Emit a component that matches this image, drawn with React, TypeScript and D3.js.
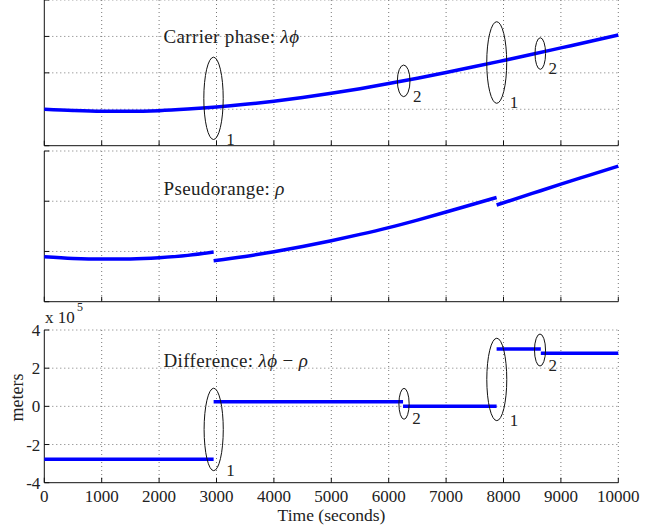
import React from 'react';
import * as d3 from 'd3';

// ---- data ----
const timeTicks = [0, 1000, 2000, 3000, 4000, 5000, 6000, 7000, 8000, 9000, 10000];

const carrierTimes = [0, 500, 1000, 1500, 2000, 2500, 3000, 3500, 4000, 4500, 5000, 5500, 6000, 6500, 7000, 7500, 8000, 8500, 9000, 9500, 10000];
const carrierValues = [1.0, 0.965, 0.945, 0.943, 0.962, 1.005, 1.062, 1.135, 1.222, 1.323, 1.438, 1.566, 1.705, 1.853, 2.01, 2.172, 2.34, 2.51, 2.685, 2.86, 3.04];

const rangeTimes1 = [0, 500, 1000, 1500, 2000, 2500, 2950];
const rangeValues1 = [0.896, 0.862, 0.848, 0.852, 0.876, 0.922, 0.99];
const rangeTimes2 = [2950, 3500, 4000, 4500, 5000, 5500, 6000, 6500, 7000, 7500, 7880];
const rangeValues2 = [0.816, 0.9, 0.995, 1.1, 1.215, 1.34, 1.475, 1.625, 1.785, 1.95, 2.075];
const rangeTimes3 = [7880, 8500, 9000, 9500, 10000];
const rangeValues3 = [1.925, 2.155, 2.34, 2.52, 2.7];

const diffStart = [0, 2950, 6250, 7880, 8650];
const diffEnd = [2950, 6250, 7880, 8650, 10000];
const diffLevel = [-2.77, 0.245, 0.0, 3.0, 2.78]; // x 10^5 m
const diffTicks = [-4, -2, 0, 2, 4];

const topTicks = [0, 1, 2, 3, 4];
const midTicks = [0, 1, 2, 3];

const slipLabels = ['1', '2', '1', '2'];
const phaseSlipTimes = [2948, 6261, 7882, 8641];
const phaseSlipCenters = [1.3, 1.78, 2.284, 2.53];
const phaseSlipHalfHeights = [1.13, 0.434, 1.12, 0.434];
const phaseSlipHalfWidths = [169, 110, 174, 92];
const diffSlipTimes = [2951, 6267, 7883, 8636];
const diffSlipCenters = [-1.21, 0.134, 1.41, 2.95];
const diffSlipHalfHeights = [2.16, 0.81, 2.16, 0.84];
const diffSlipHalfWidths = [167, 89, 174, 96];

// ---- layout ----
const W = 667;
const H = 529;
const FONT = '"Liberation Serif", "Times New Roman", serif';
const BLUE = '#0000ff';
const TXT = '#222';

const x = d3.scaleLinear().domain([0, 10000]).range([44.3, 618.3]);
const yTop = d3.scaleLinear().domain([0, 4]).range([145.7, 0]);
const yMid = d3.scaleLinear().domain([0, 3]).range([301.7, 151]);
const yBot = d3.scaleLinear().domain([-4, 4]).range([482.7, 330]);

type Pt = [number, number];
const zip = (ts: number[], vs: number[]): Pt[] => ts.map((t, i) => [t, vs[i]]);

function Panel({ y, ticks, showLabels }: { y: d3.ScaleLinear<number, number>; ticks: number[]; showLabels: boolean }) {
  const [y0, y1] = y.range();
  const top = Math.min(y0, y1);
  const bottom = Math.max(y0, y1);
  const left = x(0);
  const right = x(10000);
  return (
    <g>
      {timeTicks.filter((t) => t > 0).map((t) => (
        <line key={'gx' + t} x1={x(t)} x2={x(t)} y1={top} y2={bottom} stroke="#777" strokeWidth={1} strokeDasharray="1 3" />
      ))}
      {ticks.filter((v) => y(v) < bottom - 0.5).map((v) => (
        <line key={'gy' + v} x1={left} x2={right} y1={y(v)} y2={y(v)} stroke="#777" strokeWidth={1} strokeDasharray="1 3" />
      ))}
      <line x1={left} x2={left} y1={top} y2={bottom} stroke="#111" strokeWidth={1} />
      <line x1={left} x2={right} y1={bottom} y2={bottom} stroke="#111" strokeWidth={1} />
      {timeTicks.map((t) => (
        <line key={'tx' + t} x1={x(t)} x2={x(t)} y1={bottom} y2={bottom - 5} stroke="#111" strokeWidth={1} />
      ))}
      {ticks.map((v) => (
        <line key={'ty' + v} x1={left} x2={left + 5} y1={y(v)} y2={y(v)} stroke="#111" strokeWidth={1} />
      ))}
      {showLabels &&
        ticks.map((v) => (
          <text key={'ly' + v} x={left - 4} y={y(v) + 6} textAnchor="end" fontSize={17} fontFamily={FONT} fill={TXT}>
            {v}
          </text>
        ))}
    </g>
  );
}

function Slips({ y, ts, cs, hh, hw }: { y: d3.ScaleLinear<number, number>; ts: number[]; cs: number[]; hh: number[]; hw: number[] }) {
  return (
    <g>
      {ts.map((t, i) => {
        const cx = x(t);
        const cy = y(cs[i]);
        const ry = Math.abs(y(cs[i] + hh[i]) - cy);
        const rx = x(t + hw[i]) - cx;
        return (
          <g key={i}>
            <ellipse cx={cx} cy={cy} rx={rx} ry={ry} fill="none" stroke="#111" strokeWidth={1} />
            <text x={cx + rx + 3} y={cy + ry + 5} fontSize={17} fontFamily={FONT} fill={TXT}>
              {slipLabels[i]}
            </text>
          </g>
        );
      })}
    </g>
  );
}

export default function App() {
  const lineTop = d3.line<Pt>().x((d) => x(d[0])).y((d) => yTop(d[1])).curve(d3.curveMonotoneX);
  const lineMid = d3.line<Pt>().x((d) => x(d[0])).y((d) => yMid(d[1])).curve(d3.curveMonotoneX);
  const rangeSegs = [zip(rangeTimes1, rangeValues1), zip(rangeTimes2, rangeValues2), zip(rangeTimes3, rangeValues3)];

  return (
    <svg width={W} height={H} style={{ position: 'absolute', left: 0, top: 0, background: '#fff' }}>
      <rect width={W} height={H} fill="#fff" />
      {/* top panel */}
      <Panel y={yTop} ticks={topTicks} showLabels={false} />
      <path d={lineTop(zip(carrierTimes, carrierValues)) || ''} fill="none" stroke={BLUE} strokeWidth={3.5} />
      <Slips y={yTop} ts={phaseSlipTimes} cs={phaseSlipCenters} hh={phaseSlipHalfHeights} hw={phaseSlipHalfWidths} />
      <text x={163.5} y={43} fontSize={19} fontFamily={FONT} fill={TXT} letterSpacing={0.35}>
        Carrier phase: <tspan fontStyle="italic">λϕ</tspan>
      </text>

      {/* middle panel */}
      <Panel y={yMid} ticks={midTicks} showLabels={false} />
      {rangeSegs.map((s, i) => (
        <path key={i} d={lineMid(s) || ''} fill="none" stroke={BLUE} strokeWidth={3.5} />
      ))}
      <text x={163.5} y={194.5} fontSize={19} fontFamily={FONT} fill={TXT} letterSpacing={0.35}>
        Pseudorange: <tspan fontStyle="italic">ρ</tspan>
      </text>

      {/* bottom panel */}
      <Panel y={yBot} ticks={diffTicks} showLabels={true} />
      {diffLevel.map((v, i) => (
        <line key={i} x1={x(diffStart[i])} x2={x(diffEnd[i])} y1={yBot(v)} y2={yBot(v)} stroke={BLUE} strokeWidth={3.5} />
      ))}
      <Slips y={yBot} ts={diffSlipTimes} cs={diffSlipCenters} hh={diffSlipHalfHeights} hw={diffSlipHalfWidths} />
      <text x={163.5} y={367} fontSize={19} fontFamily={FONT} fill={TXT} letterSpacing={0.35}>
        Difference: <tspan fontStyle="italic">λϕ</tspan> − <tspan fontStyle="italic">ρ</tspan>
      </text>
      <text x={45} y={323} fontSize={17} fontFamily={FONT} fill={TXT}>x 10</text>
      <text x={77} y={311} fontSize={12} fontFamily={FONT} fill={TXT}>5</text>

      {timeTicks.map((t) => (
        <text key={t} x={x(t)} y={502} textAnchor="middle" fontSize={17} fontFamily={FONT} fill={TXT}>
          {t}
        </text>
      ))}
      <text x={331.5} y={521} textAnchor="middle" fontSize={17.5} fontFamily={FONT} fill={TXT}>
        Time (seconds)
      </text>
      <text transform={`translate(23,${397.5}) rotate(-90)`} textAnchor="middle" fontSize={18} fontFamily={FONT} fill={TXT}>
        meters
      </text>
    </svg>
  );
}
